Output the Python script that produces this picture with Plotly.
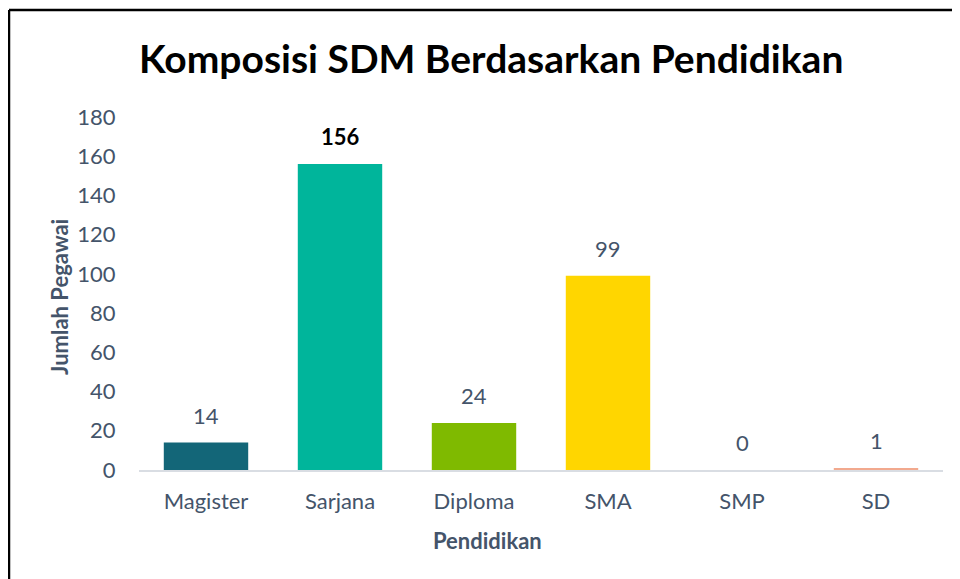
import plotly.graph_objects as go

categories = ["Magister", "Sarjana", "Diploma", "SMA", "SMP", "SD"]
values = [14, 156, 24, 99, 0, 1]
colors = ["#136678", "#00b59b", "#7fba00", "#ffd600", "#e8e8e8", "#f2a98e"]
y_ticks = [0, 20, 40, 60, 80, 100, 120, 140, 160, 180]

FONT = "Lato"
TXT = "#44546a"

fig = go.Figure(go.Bar(x=categories, y=values, marker=dict(color=colors, line=dict(width=0)),
                       width=0.63, hoverinfo="x+y"))

OFF = 8  # page body margin
W, H = 960 - OFF, 579 - OFF
L, R, T, B = 139 - OFF, 17, 117 - OFF, 109
pw, ph = W - L - R, H - T - B


def px_x(p):
    return (p - OFF - L) / pw


def px_y(p):
    return (H - B - (p - OFF)) / ph


annotations = []
for c, v in zip(categories, values):
    bold = v == max(values)
    annotations.append(dict(x=c, y=v, xref="x", yref="y", text=f"<b>{v}</b>" if bold else str(v),
                            showarrow=False, yanchor="bottom", yshift=12,
                            font=dict(family=FONT, size=22, color="#000000" if bold else TXT)))

annotations.append(dict(text="<b>Komposisi SDM Berdasarkan Pendidikan</b>", x=px_x(491), y=px_y(58),
                        xref="paper", yref="paper", showarrow=False, xanchor="center", yanchor="middle",
                        font=dict(family=FONT, size=39, color="#000000")))
annotations.append(dict(text="<b>Pendidikan</b>", x=px_x(487), y=px_y(540),
                        xref="paper", yref="paper", showarrow=False, xanchor="center", yanchor="middle",
                        font=dict(family=FONT, size=22, color=TXT)))
annotations.append(dict(text="<b>Jumlah Pegawai</b>", x=px_x(59), y=px_y(297), textangle=-90,
                        xref="paper", yref="paper", showarrow=False, xanchor="center", yanchor="middle",
                        font=dict(family=FONT, size=22, color=TXT)))

fig.update_layout(
    width=W, height=H,
    margin=dict(l=L, r=R, t=T, b=B, autoexpand=False),
    paper_bgcolor="white", plot_bgcolor="white",
    showlegend=False,
    annotations=annotations,
    shapes=[
        dict(type="line", xref="paper", yref="paper", x0=px_x(9), x1=px_x(990), y0=px_y(10), y1=px_y(10),
             line=dict(color="black", width=2.5)),
        dict(type="line", xref="paper", yref="paper", x0=px_x(9), x1=px_x(9), y0=px_y(10), y1=px_y(610),
             line=dict(color="black", width=2.5)),
    ],
    xaxis=dict(showgrid=False, showline=True, linecolor="#d9dde3", linewidth=2,
               ticks="outside", ticklen=11, tickcolor="rgba(0,0,0,0)",
               tickfont=dict(family=FONT, size=22, color=TXT), zeroline=False),
    yaxis=dict(range=[0, 180], tickvals=y_ticks, showgrid=False, showline=False, zeroline=False,
               ticks="outside", ticklen=18, tickcolor="rgba(0,0,0,0)",
               tickfont=dict(family=FONT, size=22, color=TXT)),
)

fig.write_html("out.html")
